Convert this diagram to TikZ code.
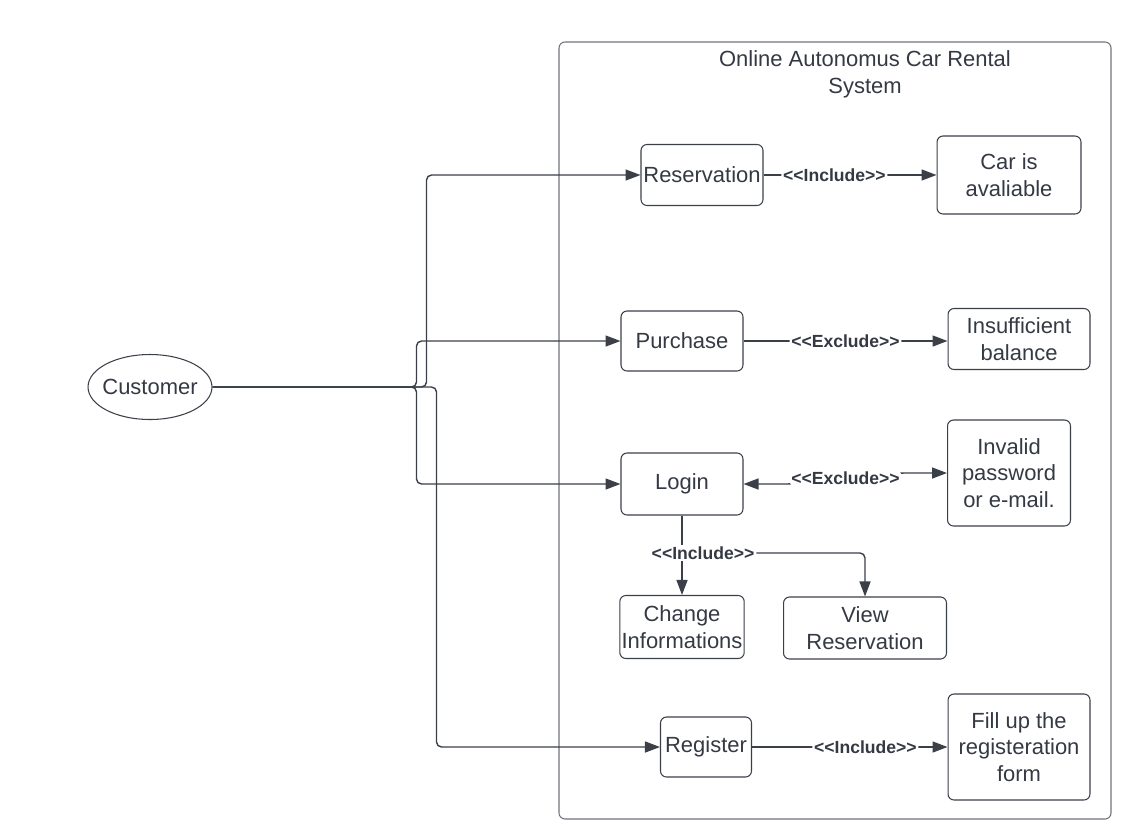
\documentclass[tikz,border=0pt]{standalone}
\usepackage{fontspec}
\setmainfont{Liberation Sans}
\usetikzlibrary{positioning,shapes.geometric,arrows.meta}
\definecolor{lineC}{HTML}{3A3F48}
\definecolor{frameC}{HTML}{6E737A}
\definecolor{textC}{HTML}{343943}
\newcommand{\stereo}[1]{<\kern0pt<#1>\kern0pt>}
\tikzset{
  uc/.style={draw=lineC, rounded corners=1.2mm, align=center, text=textC,
             font=\fontsize{12.5}{15}\selectfont, inner sep=1pt, line width=0.6pt},
  actor/.style={draw=lineC, ellipse, text=textC, font=\fontsize{12.5}{15}\selectfont,
                minimum width=2.48cm, minimum height=1.3cm, inner xsep=-0.8mm, inner ysep=0pt, line width=0.6pt},
  uses/.style={-{Triangle[length=3mm,width=2.2mm]}, line width=0.8pt, draw=lineC, rounded corners=1mm},
  both/.style={uses, {Triangle[length=3mm,width=2.2mm]}-{Triangle[length=3mm,width=2.2mm]}},
  rel/.style={font=\fontsize{10}{12}\selectfont\bfseries, text=textC, fill=white, inner sep=1pt},
}
\begin{document}
\begin{tikzpicture}[x=0.02cm, y=-0.02cm]
\useasboundingbox (0,0) rectangle (1141,832);
% system boundary
\draw[frameC, line width=0.6pt, rounded corners=1.2mm] (559,42) rectangle (1111,819);
\node[text=textC, font=\fontsize{12.5}{15.5}\selectfont, align=center] (title) at (865,74)
  {Online Autonomus Car Rental\\System};
\node[actor] (cust) at (150,387) {Customer};
\node[uc, minimum width=2.44cm, minimum height=1.22cm] (resv)   at (702,175)  {Reservation};
\node[uc, minimum width=2.88cm, minimum height=1.56cm] (car)    at (1009,175) {Car is\\avaliable};
\node[uc, minimum width=2.44cm, minimum height=1.2cm]  (purch)  at (682,341)  {Purchase};
\node[uc, minimum width=2.84cm, minimum height=1.22cm] (insuf)  at (1019,339) {Insufficient\\balance};
\node[uc, minimum width=2.44cm, minimum height=1.24cm] (login)  at (682,484)  {Login};
\node[uc, minimum width=2.46cm, minimum height=2.12cm] (invp)   at (1009,473) {Invalid\\password\\or e-mail.};
\node[uc, minimum width=2.44cm, minimum height=1.26cm] (chg)    at (682,627)  {Change\\Informations};
\node[uc, minimum width=3.26cm, minimum height=1.24cm] (view)   at (865,628)  {View\\Reservation};
\node[uc, minimum width=1.82cm, minimum height=1.2cm]  (reg)    at (706,747)  {Register};
\node[uc, minimum width=2.84cm, minimum height=2.12cm] (regform) at (1019,747) {Fill up the\\registeration\\form};
% customer to use cases
\draw[uses] (cust.east) -- ++(214,0) |- (resv.west);
\draw[uses] (cust.east) -- ++(204,0) |- (purch.west);
\draw[uses] (cust.east) -- ++(204,0) |- (login.west);
\draw[uses] (cust.east) -- ++(224,0) |- (reg.west);
% relations
\draw[uses] (resv) -- node[rel, pos=0.41] {\stereo{Include}} (car);
\draw[uses] (purch.east) -- node[rel] {\stereo{Exclude}} (purch.east -| insuf.west);
\draw[both] (login.east) -- ++(47,0) -- node[rel] {\stereo{Exclude}} ++(110,-11) -- (invp.west);
\draw[uses] (login) -- (chg);
\node[rel] (inc) at (703,553) {\stereo{Include}};
\draw[uses] (inc.east) -| (view.north);
\draw[uses] (reg) -- node[rel, pos=0.58] {\stereo{Include}} (regform);
\end{tikzpicture}
\end{document}
